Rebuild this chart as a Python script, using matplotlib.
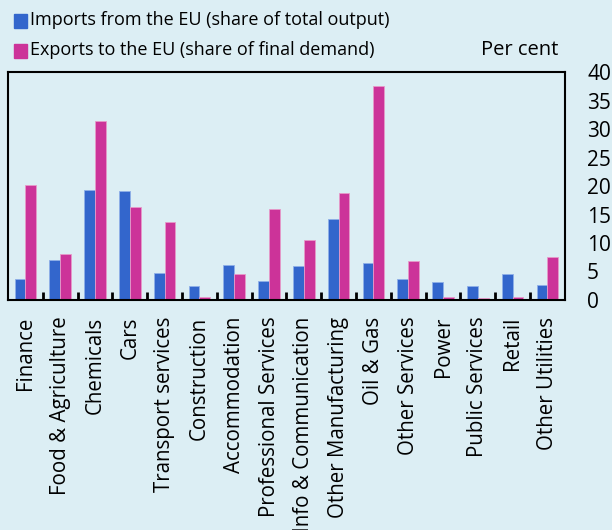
import numpy as np
import matplotlib.pyplot as plt

plt.rcParams["font.family"] = ["Open Sans", "DejaVu Sans"]

sectors = ["Finance", "Food & Agriculture", "Chemicals", "Cars", "Transport services",
           "Construction", "Accommodation", "Professional Services", "Info & Communication",
           "Other Manufacturing", "Oil & Gas", "Other Services", "Power", "Public Services",
           "Retail", "Other Utilities"]
imports_eu = [3.6, 7.1, 19.3, 19.2, 4.8, 2.5, 6.2, 3.4, 5.9, 14.2, 6.5, 3.6, 3.2, 2.4, 4.6, 2.7]
exports_eu = [20.2, 8.1, 31.5, 16.3, 13.6, 0.5, 4.5, 15.9, 10.5, 18.7, 37.6, 6.9, 0.6, 0.3, 0.6, 7.6]

BG = "#DCEEF4"
BLUE = "#3366CC"
PINK = "#CC3399"

fig = plt.figure(figsize=(6.12, 5.30), dpi=100, facecolor=BG)
ax = fig.add_axes([0.013, 0.434, 0.910, 0.430], facecolor=BG)

x = np.arange(len(sectors))
w = 0.31
ax.bar(x - w / 2, imports_eu, w, color=BLUE, edgecolor="#8FB0E8", linewidth=0.6)
ax.bar(x + w / 2, exports_eu, w, color=PINK, edgecolor="#E79AC9", linewidth=0.6)

ax.set_xlim(-0.5, len(sectors) - 0.5)
ax.set_ylim(0, 40)
ax.yaxis.tick_right()
ax.set_yticks(range(0, 41, 5))
ax.tick_params(axis="y", length=0, labelsize=15, pad=16)

ax.set_xticks(x)
ax.set_xticklabels(sectors, rotation=90, fontsize=14.8)
ax.tick_params(axis="x", length=0, pad=12)
ax.set_xticks(np.arange(0.5, len(sectors) - 1, 1), minor=True)
ax.tick_params(axis="x", which="minor", direction="in", length=6, width=2)

for s in ax.spines.values():
    s.set_linewidth(1.5)

# legend
fig.patches.append(plt.Rectangle((14 / 612, 1 - 28 / 530), 13 / 612, 14 / 530,
                                 transform=fig.transFigure, color=BLUE))
fig.patches.append(plt.Rectangle((14 / 612, 1 - 58 / 530), 13 / 612, 14 / 530,
                                 transform=fig.transFigure, color=PINK))
fig.text(30 / 612, 1 - 20 / 530, "Imports from the EU (share of total output)",
         fontsize=13, va="center", ha="left")
fig.text(30 / 612, 1 - 50 / 530, "Exports to the EU (share of final demand)",
         fontsize=13, va="center", ha="left")
fig.text(481 / 612, 1 - 50 / 530, "Per cent", fontsize=14.5, va="center", ha="left")

fig.savefig("out.png", dpi=100, facecolor=BG)
